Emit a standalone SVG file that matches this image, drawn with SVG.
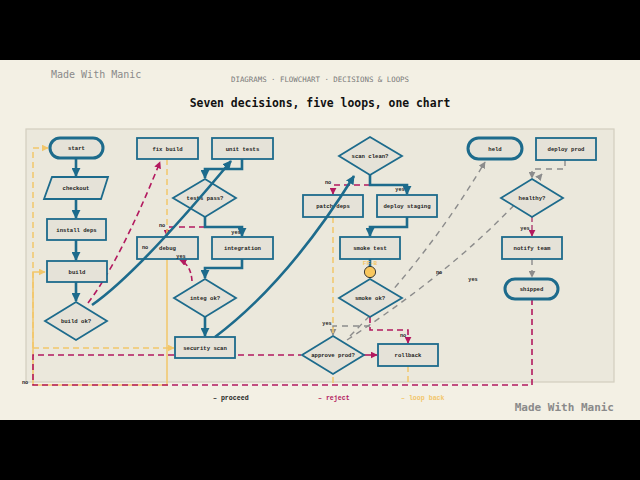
<svg xmlns="http://www.w3.org/2000/svg" width="640" height="480" viewBox="0 0 640 480">
<defs>
<style>
.nd{fill:#e5e2d8;stroke:#1d6b8c;stroke-width:1.8}
.term{fill:#e5e2d8;stroke:#1d6b8c;stroke-width:3}
.lbl{font-family:"Liberation Mono","DejaVu Sans Mono",monospace;font-weight:bold;font-size:5.6px;fill:#222;text-anchor:middle}
.el{font-family:"Liberation Mono","DejaVu Sans Mono",monospace;font-weight:bold;font-size:5.2px;fill:#222;text-anchor:middle}
.pro{fill:none;stroke:#1d6b8c;stroke-width:2.6}
.rej{fill:none;stroke:#b3195f;stroke-width:1.6;stroke-dasharray:6 4}
.loop{fill:none;stroke:#f2c66a;stroke-width:1.5;stroke-dasharray:6 4}
.loops{fill:none;stroke:#f2c66a;stroke-width:1.5}
.gry{fill:none;stroke:#8c8c8c;stroke-width:1.4;stroke-dasharray:6 5}
</style>
<marker id="aP" viewBox="0 0 10 10" refX="9" refY="5" markerWidth="9" markerHeight="9" markerUnits="userSpaceOnUse" orient="auto"><path d="M0,0 L10,5 L0,10 z" fill="#1d6b8c"/></marker>
<marker id="aR" viewBox="0 0 10 10" refX="9" refY="5" markerWidth="7" markerHeight="7" markerUnits="userSpaceOnUse" orient="auto"><path d="M0,0 L10,5 L0,10 z" fill="#b3195f"/></marker>
<marker id="aY" viewBox="0 0 10 10" refX="9" refY="5" markerWidth="7" markerHeight="7" markerUnits="userSpaceOnUse" orient="auto"><path d="M0,0 L10,5 L0,10 z" fill="#f2c66a"/></marker>
<marker id="aG" viewBox="0 0 10 10" refX="9" refY="5" markerWidth="7" markerHeight="7" markerUnits="userSpaceOnUse" orient="auto"><path d="M0,0 L10,5 L0,10 z" fill="#8c8c8c"/></marker>
</defs>
<rect x="0" y="0" width="640" height="480" fill="#000"/>
<rect x="0" y="60" width="640" height="360" fill="#f3f0e4"/>
<text x="51" y="78" font-family="'DejaVu Sans Mono','Liberation Mono',monospace" font-size="10" fill="#8a8a8a">Made With Manic</text>
<text x="320" y="82" font-family="'DejaVu Sans Mono','Liberation Mono',monospace" font-size="7.4" fill="#7a7a7a" text-anchor="middle">DIAGRAMS · FLOWCHART · DECISIONS &amp; LOOPS</text>
<text x="320" y="107" font-family="'DejaVu Sans Mono','Liberation Mono',monospace" font-size="11.4" font-weight="bold" fill="#111" text-anchor="middle">Seven decisions, five loops, one chart</text>
<rect x="26" y="129" width="588" height="253" fill="#ebe8dc" stroke="#d2cebf" stroke-width="1.2"/>

<g id="connectors">
<path class="pro" d="M76,158 V176" marker-end="url(#aP)"/>
<path class="pro" d="M76,199 V218" marker-end="url(#aP)"/>
<path class="pro" d="M76,240 V260" marker-end="url(#aP)"/>
<path class="pro" d="M76,282 V301" marker-end="url(#aP)"/>
<path class="pro" d="M242,159 V169 H205 V178" marker-end="url(#aP)"/>
<path class="rej" d="M205,227 H167 V236" marker-end="url(#aR)"/>
<path class="pro" d="M205,217 V227 H242 V236" marker-end="url(#aP)"/>
<path class="pro" d="M242,259 V268 H205 V278" marker-end="url(#aP)"/>
<path class="pro" d="M205,316 V336" marker-end="url(#aP)"/>
<path class="rej" d="M370,185 H333 V194" marker-end="url(#aR)"/>
<path class="pro" d="M370,175 V185 H407 V194" marker-end="url(#aP)"/>
<path class="pro" d="M407,217 V227 H370 V236" marker-end="url(#aP)"/>
<path class="pro" d="M370,259 V278"/>
<path class="gry" d="M370,326 H333 V335" marker-end="url(#aG)"/>
<path class="rej" d="M370,317 V330 H408 V343" marker-end="url(#aR)"/>
<path d="M364,355 H377" fill="none" stroke="#b3195f" stroke-width="1.6" marker-end="url(#aR)"/>
<path class="gry" d="M350,336 Q427,259 485,162" marker-end="url(#aG)"/>
<path class="gry" d="M347,340 Q471,259 542,174" marker-end="url(#aG)"/>
<path class="gry" d="M565,160 V169 H532 V178" marker-end="url(#aG)"/>
<path d="M532,217 V236" fill="none" stroke="#b5507e" stroke-width="1.6" stroke-dasharray="5 3" marker-end="url(#aR)"/>
<path class="gry" d="M532,259 V277" marker-end="url(#aG)"/>
<path class="rej" d="M88,303 Q120,261 160,162" marker-end="url(#aR)"/>
<path d="M192,281 Q191,265 180,260" fill="none" stroke="#b3195f" stroke-width="1.6" stroke-dasharray="5 3" marker-end="url(#aR)"/>
<path class="loop" d="M33,348 V148 H48" marker-end="url(#aY)"/>
<path class="loop" d="M33,348 H174" marker-end="url(#aY)"/>
<path class="loop" d="M167,159 V237"/>
<path class="loops" d="M167,259 V385 H33 V272 H45" marker-end="url(#aY)"/>
<path class="loop" d="M333,217 V384"/>
<path class="loop" d="M408,366 V384"/>
<path class="rej" d="M532,299 V385 H33 V355 H301" stroke-dasharray="8 5"/>
</g>

<g id="start"><rect class="term" x="50" y="138" width="53" height="20" rx="10"/><text class="lbl" x="76.5" y="150">start</text></g>
<g id="checkout"><polygon class="nd" points="52,177 108,177 101,199 44,199"/><text class="lbl" x="76" y="190">checkout</text></g>
<g id="install-deps"><rect class="nd" x="47" y="219" width="59" height="21"/><text class="lbl" x="76.5" y="231.5">install deps</text></g>
<g id="build"><rect class="nd" x="47" y="261" width="60" height="21"/><text class="lbl" x="77" y="273.5">build</text></g>
<g id="build-ok"><polygon class="nd" points="76,302 107,321 76,340 45,321"/><text class="lbl" x="76" y="323">build ok?</text></g>
<g id="fix-build"><rect class="nd" x="137" y="138" width="61" height="21"/><text class="lbl" x="167.5" y="150.5">fix build</text></g>
<g id="unit-tests"><rect class="nd" x="212" y="138" width="61" height="21"/><text class="lbl" x="242.5" y="150.5">unit tests</text></g>
<g id="tests-pass"><polygon class="nd" points="205,179 236,198 205,217 173,198"/><text class="lbl" x="205" y="200">tests pass?</text></g>
<g id="debug"><rect class="nd" x="137" y="237" width="61" height="22"/><text class="lbl" x="167.5" y="250">debug</text></g>
<g id="integration"><rect class="nd" x="212" y="237" width="61" height="22"/><text class="lbl" x="242.5" y="250">integration</text></g>
<g id="integ-ok"><polygon class="nd" points="205,279 236,298 205,317 174,298"/><text class="lbl" x="205" y="300">integ ok?</text></g>
<g id="security-scan"><rect class="nd" x="175" y="337" width="60" height="21"/><text class="lbl" x="205" y="349.5">security scan</text></g>
<g id="scan-clean"><polygon class="nd" points="370,137 402,156 370,175 339,156"/><text class="lbl" x="370" y="158">scan clean?</text></g>
<g id="patch-deps"><rect class="nd" x="303" y="195" width="60" height="22"/><text class="lbl" x="333" y="208">patch deps</text></g>
<g id="deploy-staging"><rect class="nd" x="377" y="195" width="60" height="22"/><text class="lbl" x="407" y="208">deploy staging</text></g>
<g id="smoke-test"><rect class="nd" x="340" y="237" width="60" height="22"/><text class="lbl" x="370" y="250">smoke test</text></g>
<g id="junction"><circle cx="370" cy="272" r="5.6" fill="#f8c75e" stroke="#2a2a2a" stroke-width="0.9"/><text x="370" y="265" font-family="'Liberation Mono',monospace" font-weight="bold" font-size="6" fill="#f2c66a" text-anchor="middle">FF-B</text></g>
<g id="smoke-ok"><polygon class="nd" points="370,279 402,298 370,317 339,298"/><text class="lbl" x="370" y="300">smoke ok?</text></g>
<g id="approve-prod"><polygon class="nd" points="333,336 364,355 333,374 302,355"/><text class="lbl" x="333" y="357">approve prod?</text></g>
<g id="rollback"><rect class="nd" x="378" y="344" width="60" height="22"/><text class="lbl" x="408" y="357">rollback</text></g>
<g id="held"><rect class="term" x="468" y="138" width="54" height="21" rx="10.5"/><text class="lbl" x="495" y="150.5">held</text></g>
<g id="deploy-prod"><rect class="nd" x="536" y="138" width="60" height="22"/><text class="lbl" x="566" y="151">deploy prod</text></g>
<g id="healthy"><polygon class="nd" points="532,179 563,198 532,217 501,198"/><text class="lbl" x="532" y="200">healthy?</text></g>
<g id="notify-team"><rect class="nd" x="502" y="237" width="60" height="22"/><text class="lbl" x="532" y="250">notify team</text></g>
<g id="shipped"><rect class="term" x="505" y="279" width="53" height="20" rx="10"/><text class="lbl" x="531.5" y="291">shipped</text></g>

<g id="connectors-over">
<path class="pro" d="M92,305 Q138,273 231,161" marker-end="url(#aP)"/>
<path class="pro" d="M215,337 Q288,282 354,176" marker-end="url(#aP)"/>
</g>

<g id="edge-labels">
<text class="el" x="162" y="227">no</text>
<text class="el" x="145" y="249">no</text>
<text class="el" x="236" y="234">yes</text>
<text class="el" x="181" y="258">yes</text>
<text class="el" x="328" y="184">no</text>
<text class="el" x="400" y="191">yes</text>
<text class="el" x="439" y="274">no</text>
<text class="el" x="473" y="281">yes</text>
<text class="el" x="327" y="325">yes</text>
<text class="el" x="403" y="337">no</text>
<text class="el" x="525" y="230">yes</text>
<text class="el" x="25" y="384">no</text>
</g>

<g id="legend" font-family="'Liberation Mono','DejaVu Sans Mono',monospace" font-weight="bold" font-size="6.6">
<text x="213" y="400" fill="#222">– proceed</text>
<text x="318" y="400" fill="#b3195f">– reject</text>
<text x="401" y="400" fill="#f2c66a">– loop back</text>
</g>
<text x="614" y="411" font-family="'DejaVu Sans Mono','Liberation Mono',monospace" font-size="11" font-weight="bold" fill="#8a8a8a" text-anchor="end">Made With Manic</text>
</svg>
